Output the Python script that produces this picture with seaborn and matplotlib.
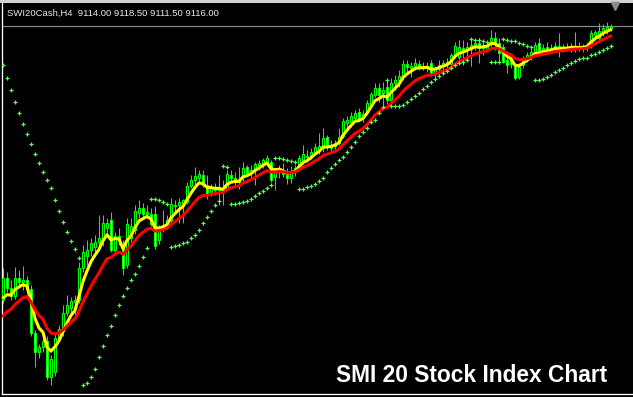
import numpy as np
import pandas as pd
import matplotlib
matplotlib.use("Agg")
import matplotlib.pyplot as plt
from matplotlib.patches import Rectangle
from matplotlib.lines import Line2D
import seaborn as sns

# ---------------- data (H4 candles) ----------------
symbol_label = "SWI20Cash,H4"
last_quote = [9114.00, 9118.50, 9111.50, 9116.00]   # O H L C of last bar
chart_title = "SMI 20 Stock Index Chart"

opens = [8842, 8864, 8854, 8846, 8864, 8860, 8862, 8853, 8809, 8790,
         8795, 8801, 8765, 8770, 8804, 8811, 8829, 8834, 8840, 8842,
         8874, 8886, 8892, 8895, 8900, 8902, 8914, 8922, 8892, 8906,
         8897, 8877, 8904, 8912, 8929, 8934, 8928, 8928, 8928, 8902,
         8914, 8917, 8922, 8936, 8937, 8939, 8940, 8956, 8962, 8964,
         8967, 8957, 8950, 8954, 8952, 8954, 8954, 8967, 8964, 8960,
         8967, 8975, 8970, 8972, 8977, 8977, 8980, 8980, 8965, 8970,
         8972, 8967, 8964, 8970, 8976, 8982, 8986, 8987, 8990, 8992,
         8994, 9005, 8994, 8996, 8999, 9006, 9019, 9020, 9024, 9030,
         9024, 9030, 9037, 9047, 9054, 9049, 9055, 9042, 9059, 9062,
         9065, 9078, 9074, 9076, 9078, 9076, 9074, 9079, 9069, 9073,
         9076, 9079, 9078, 9087, 9085, 9094, 9092, 9093, 9097, 9099,
         9094, 9092, 9101, 9104, 9099, 9095, 9082, 9082, 9076, 9065,
         9077, 9084, 9086, 9090, 9099, 9092, 9095, 9092, 9094, 9096,
         9093, 9095, 9094, 9096, 9095, 9094, 9095, 9097, 9107, 9104,
         9110, 9112, 9114.0]
highs = [8874, 8870, 8862, 8875, 8872, 8876, 8866, 8857, 8812, 8798,
         8807, 8806, 8787, 8809, 8817, 8837, 8847, 8845, 8847, 8880,
         8897, 8902, 8904, 8907, 8927, 8927, 8924, 8930, 8910, 8914,
         8902, 8924, 8924, 8937, 8942, 8939, 8937, 8934, 8936, 8917,
         8932, 8927, 8944, 8942, 8944, 8943, 8960, 8967, 8975, 8972,
         8972, 8967, 8958, 8959, 8967, 8962, 8972, 8972, 8970, 8975,
         8980, 8977, 8977, 8980, 8982, 8984, 8987, 8982, 8974, 8977,
         8979, 8974, 8976, 8977, 8987, 8997, 8992, 8994, 8999, 9009,
         9014, 9007, 9002, 9002, 9014, 9024, 9026, 9030, 9032, 9034,
         9032, 9042, 9050, 9059, 9059, 9060, 9062, 9064, 9067, 9072,
         9082, 9082, 9080, 9084, 9082, 9080, 9080, 9082, 9076, 9082,
         9082, 9084, 9089, 9100, 9102, 9102, 9100, 9102, 9101, 9104,
         9100, 9099, 9112, 9110, 9104, 9098, 9089, 9087, 9078, 9079,
         9086, 9090, 9094, 9100, 9104, 9098, 9100, 9098, 9100, 9109,
         9098, 9099, 9099, 9110, 9100, 9098, 9099, 9112, 9112, 9119,
         9118, 9120, 9118.5]
lows = [8839, 8850, 8842, 8843, 8856, 8852, 8850, 8806, 8775, 8784,
        8790, 8762, 8757, 8766, 8801, 8806, 8826, 8828, 8822, 8839,
        8870, 8877, 8886, 8889, 8897, 8896, 8909, 8890, 8889, 8897,
        8867, 8874, 8900, 8908, 8924, 8924, 8924, 8916, 8893, 8898,
        8910, 8913, 8919, 8928, 8919, 8919, 8938, 8954, 8955, 8960,
        8955, 8943, 8946, 8947, 8937, 8937, 8952, 8961, 8956, 8953,
        8959, 8967, 8964, 8957, 8972, 8974, 8976, 8960, 8952, 8964,
        8965, 8958, 8959, 8966, 8972, 8978, 8980, 8983, 8987, 8988,
        8990, 8992, 8989, 8992, 8997, 9004, 9015, 9015, 9020, 9021,
        9020, 9028, 9035, 9045, 9040, 9034, 9038, 9040, 9052, 9055,
        9062, 9070, 9065, 9072, 9072, 9072, 9070, 9066, 9064, 9068,
        9072, 9074, 9076, 9084, 9082, 9077, 9082, 9076, 9092, 9079,
        9087, 9090, 9094, 9092, 9078, 9079, 9069, 9074, 9062, 9063,
        9074, 9080, 9082, 9086, 9088, 9087, 9088, 9089, 9090, 9085,
        9090, 9091, 9090, 9090, 9091, 9090, 9091, 9094, 9102, 9100,
        9106, 9108, 9111.5]
closes = [8864, 8854, 8846, 8864, 8860, 8862, 8853, 8809, 8790, 8795,
          8801, 8765, 8783, 8804, 8813, 8829, 8837, 8841, 8842, 8874,
          8890, 8892, 8899, 8900, 8904, 8919, 8919, 8892, 8906, 8902,
          8874, 8918, 8916, 8931, 8934, 8928, 8930, 8918, 8896, 8914,
          8917, 8922, 8938, 8937, 8940, 8942, 8956, 8962, 8966, 8968,
          8957, 8947, 8954, 8952, 8954, 8950, 8968, 8964, 8962, 8961,
          8974, 8969, 8972, 8978, 8979, 8982, 8984, 8962, 8970, 8974,
          8968, 8964, 8970, 8974, 8984, 8988, 8985, 8990, 8995, 8996,
          9004, 8995, 8997, 8999, 9005, 9021, 9022, 9026, 9029, 9023,
          9028, 9039, 9048, 9054, 9047, 9052, 9042, 9059, 9062, 9066,
          9078, 9075, 9076, 9079, 9076, 9074, 9076, 9069, 9073, 9077,
          9079, 9080, 9087, 9096, 9095, 9092, 9095, 9097, 9099, 9094,
          9096, 9097, 9104, 9098, 9089, 9080, 9077, 9078, 9064, 9075,
          9084, 9087, 9090, 9097, 9090, 9094, 9092, 9094, 9096, 9093,
          9095, 9094, 9096, 9095, 9094, 9095, 9097, 9109, 9110, 9111,
          9114, 9115, 9116.0]
parabolic_sar = [9077, 9064, 9052, 9040, 9029, 9018, 9008, 8998, 8988, 8979,
                 8970, 8962, 8954, 8942, 8931, 8920, 8910, 8901, 8893, 8884,
                 8757, 8759, 8765, 8773, 8785, 8796, 8807, 8816, 8827, 8837,
                 8846, 8854, 8862, 8868, 8876, 8885, 8894, 8943, 8943, 8942,
                 8940, 8938, 8895, 8896, 8897, 8899, 8900, 8904, 8907, 8912,
                 8919, 8925, 8931, 8937, 8941, 8976, 8975, 8938, 8938, 8939,
                 8940, 8941, 8943, 8946, 8949, 8951, 8954, 8957, 8984, 8984,
                 8983, 8982, 8981, 8980, 8953, 8953, 8955, 8956, 8958, 8961,
                 8964, 8970, 8974, 8978, 8982, 8985, 8990, 8995, 9000, 9006,
                 9010, 9014, 9020, 9022, 9029, 9035, 9062, 9036, 9036, 9036,
                 9037, 9040, 9043, 9046, 9049, 9053, 9056, 9060, 9063, 9066,
                 9069, 9071, 9074, 9077, 9079, 9080, 9082, 9103, 9102, 9102,
                 9101, 9100, 9080, 9080, 9080, 9103, 9102, 9101, 9101, 9099,
                 9098, 9096, 9095, 9062, 9062, 9063, 9065, 9067, 9070, 9072,
                 9074, 9077, 9079, 9081, 9083, 9084, 9084, 9087, 9088, 9090,
                 9092, 9094, 9096]

fast_period, slow_period = 5, 12
fast_seed, slow_seed = 8834, 8819       # MA values carried in from earlier bars

# ---------------- derived indicator lines ----------------
df = pd.DataFrame({"bar": np.arange(len(closes)), "open": opens, "high": highs,
                   "low": lows, "close": closes, "sar": parabolic_sar})


def ema(values, period, seed):
    a = 2.0 / (period + 1)
    out, prev = [], seed
    for v in values:
        prev = prev + a * (v - prev)
        out.append(prev)
    return out


df["fast"] = ema(df["close"], fast_period, fast_seed)
df["slow"] = ema(df["close"], slow_period, slow_seed)

# ---------------- figure ----------------
sns.set_theme(style="dark")
plt.rcParams["font.family"] = ["Liberation Sans", "DejaVu Sans"]

W, H = 633, 397
fig = plt.figure(figsize=(W / 100, H / 100), dpi=100, facecolor="black")
ax = fig.add_axes([2 / W, 3 / H, 631 / W, 391 / H])
ax.set_facecolor("black")

lime = "#00ff00"
px = 0.72  # one pixel in points

bull = df["close"] >= df["open"]
ax.vlines(df["bar"], df["low"], df["high"], color=lime, lw=px, zorder=2)
body_h = (df["close"] - df["open"]).where(lambda s: s.abs() > 0.5, 0.5)
ax.bar(df["bar"], body_h, bottom=df["open"], width=0.55,
       color=np.where(bull, "black", "white"), edgecolor=lime,
       linewidth=px * 1.1, zorder=3)

sns.lineplot(data=df, x="bar", y="fast", color="#ffff00", lw=2.2, ax=ax,
             zorder=4, legend=False)
sns.lineplot(data=df, x="bar", y="slow", color="#ff0000", lw=2.2, ax=ax,
             zorder=5, legend=False)
sns.scatterplot(data=df, x="bar", y="sar", marker="+", color="#55ff55",
                s=8, linewidth=0.9, ax=ax, zorder=6, legend=False)

# bid line at last close
ax.axhline(df["close"].iloc[-1], color="#7d8a9a", lw=px * 1.2, zorder=1)

ax.set_xlim(-0.25, 157.5)
ax.set_ylim(8748, 9139)
ax.set_xticks([])
ax.set_yticks([])
ax.set_xlabel("")
ax.set_ylabel("")
for side in ("top", "right"):
    ax.spines[side].set_visible(False)
for side in ("left", "bottom"):
    ax.spines[side].set_color("white")
    ax.spines[side].set_linewidth(px * 1.3)

# top window band and chart-shift marker
fig.patches.append(Rectangle((0, 1 - 3 / H), 1, 3 / H, transform=fig.transFigure,
                             facecolor="#d0d0d0", edgecolor="none", zorder=0))
fig.add_artist(Line2D([615 / W], [1 - 5.5 / H], marker="v", markersize=6,
                      color="#8c8c8c", transform=fig.transFigure))

header = symbol_label + "  " + " ".join(f"{v:.2f}" for v in last_quote)
fig.text(7 / W, 1 - 15.5 / H, header, color="#eaeaea", fontsize=6.8,
         ha="left", va="baseline")
fig.text(336 / W, 15.5 / H, chart_title, color="white", fontsize=16.4,
         fontweight="bold", ha="left", va="baseline")

fig.savefig("out.png", dpi=100, facecolor="black")
